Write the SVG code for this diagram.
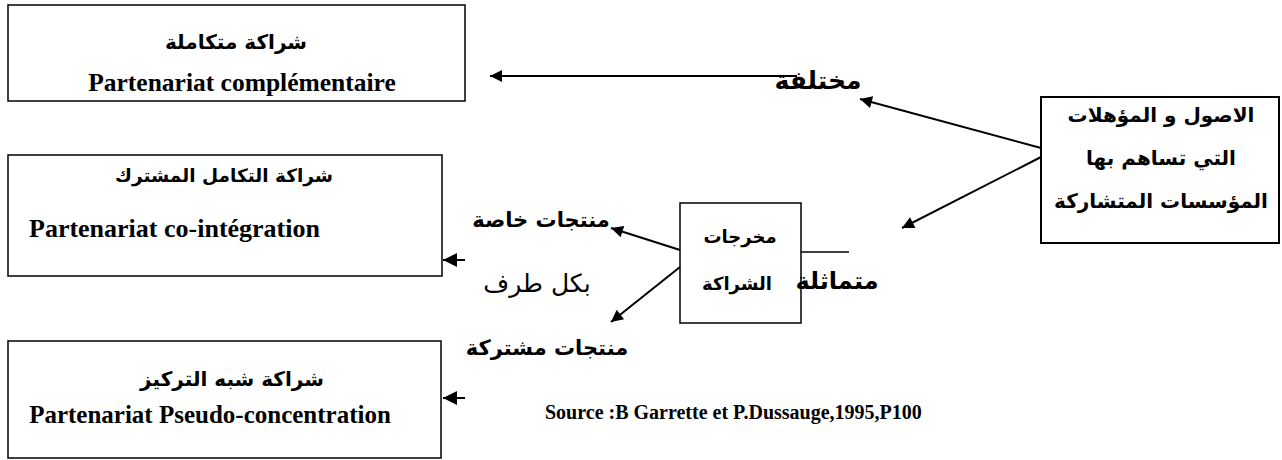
<svg xmlns="http://www.w3.org/2000/svg" width="1282" height="460" viewBox="0 0 1282 460">
  <style>
    .box { fill: #ffffff; stroke: #000000; stroke-width: 1.5; }
    .bigbox { fill: #ffffff; stroke: #000000; stroke-width: 2; }
    .link { fill: none; stroke: #000000; stroke-width: 2; }
    .thin { fill: none; stroke: #000000; stroke-width: 1.3; }
    .ar { font-family: "DejaVu Sans", "Noto Sans", sans-serif; font-weight: bold; fill: #000; text-anchor: middle; direction: rtl; }
    .ar-plain { font-family: "DejaVu Sans", "Noto Sans", sans-serif; font-weight: normal; fill: #000; text-anchor: middle; direction: rtl; }
    .fr { font-family: "Liberation Serif", "Times New Roman", serif; font-weight: bold; fill: #000; }
  </style>
  <defs>
    <marker id="head" viewBox="0 0 10 10" refX="10" refY="5" markerWidth="7" markerHeight="6" markerUnits="strokeWidth" orient="auto">
      <path d="M0,0 L10,5 L0,10 z" fill="#000"/>
    </marker>
    <marker id="headSmall" viewBox="0 0 10 10" refX="10" refY="5" markerWidth="9" markerHeight="7" markerUnits="strokeWidth" orient="auto">
      <path d="M0,0 L10,5 L0,10 z" fill="#000"/>
    </marker>
  </defs>

  <!-- partnership outcome boxes -->
  <g id="complementaire">
    <rect class="box" x="8" y="5" width="457" height="96"/>
    <text class="ar" x="236" y="49" font-size="20">شراكة متكاملة</text>
    <text class="fr" x="242" y="91" font-size="25.5" text-anchor="middle">Partenariat complémentaire</text>
  </g>

  <g id="co-integration">
    <rect class="box" x="8" y="155" width="434" height="121"/>
    <text class="ar" x="224" y="182" font-size="18.5">شراكة التكامل المشترك</text>
    <text class="fr" x="29" y="237" font-size="26">Partenariat co-intégration</text>
  </g>

  <g id="pseudo-concentration">
    <rect class="box" x="8" y="341" width="433" height="117"/>
    <text class="ar" x="232" y="386" font-size="20">شراكة شبه التركيز</text>
    <text class="fr" x="210" y="423" font-size="25" text-anchor="middle">Partenariat Pseudo-concentration</text>
  </g>

  <!-- inputs brought by the partners -->
  <g id="actifs">
    <rect class="bigbox" x="1041" y="97" width="238" height="146"/>
    <text class="ar" x="1161" y="122" font-size="20">الاصول و المؤهلات</text>
    <text class="ar" x="1161" y="165" font-size="20">التي تساهم بها</text>
    <text class="ar" x="1161" y="208" font-size="20">المؤسسات المتشاركة</text>
  </g>

  <!-- outputs of the partnership -->
  <g id="mokhrajat">
    <rect class="box" x="680" y="203" width="121" height="120"/>
    <text class="ar" x="740" y="243" font-size="18">مخرجات</text>
    <text class="ar" x="737" y="290" font-size="18">الشراكة</text>
  </g>

  <!-- connectors -->
  <g id="connectors">
    <line class="link" x1="797" y1="76" x2="490" y2="76" marker-end="url(#head)"/>
    <line class="link" x1="1041" y1="148" x2="860" y2="99" marker-end="url(#head)"/>
    <line class="link" x1="1041" y1="157" x2="902" y2="228" marker-end="url(#head)"/>
    <line class="thin" x1="801" y1="252" x2="849" y2="252"/>
    <line class="link" x1="680" y1="250" x2="611" y2="228" marker-end="url(#head)"/>
    <line class="link" x1="680" y1="267" x2="611" y2="322" marker-end="url(#head)"/>
    <line class="link" x1="465" y1="260" x2="443" y2="260" marker-end="url(#headSmall)"/>
    <line class="link" x1="465" y1="398" x2="443" y2="398" marker-end="url(#headSmall)"/>
  </g>

  <!-- branch labels -->
  <g id="labels">
    <text class="ar" x="818" y="89" font-size="25">مختلفة</text>
    <text class="ar" x="837" y="289" font-size="24">متماثلة</text>
    <text class="ar" x="541" y="227" font-size="21">منتجات خاصة</text>
    <text class="ar-plain" x="537" y="292" font-size="25">بكل طرف</text>
    <text class="ar" x="547" y="355" font-size="21">منتجات مشتركة</text>
    <text class="fr" x="545" y="419" font-size="20">Source :B Garrette et P.Dussauge,1995,P100</text>
  </g>
</svg>
